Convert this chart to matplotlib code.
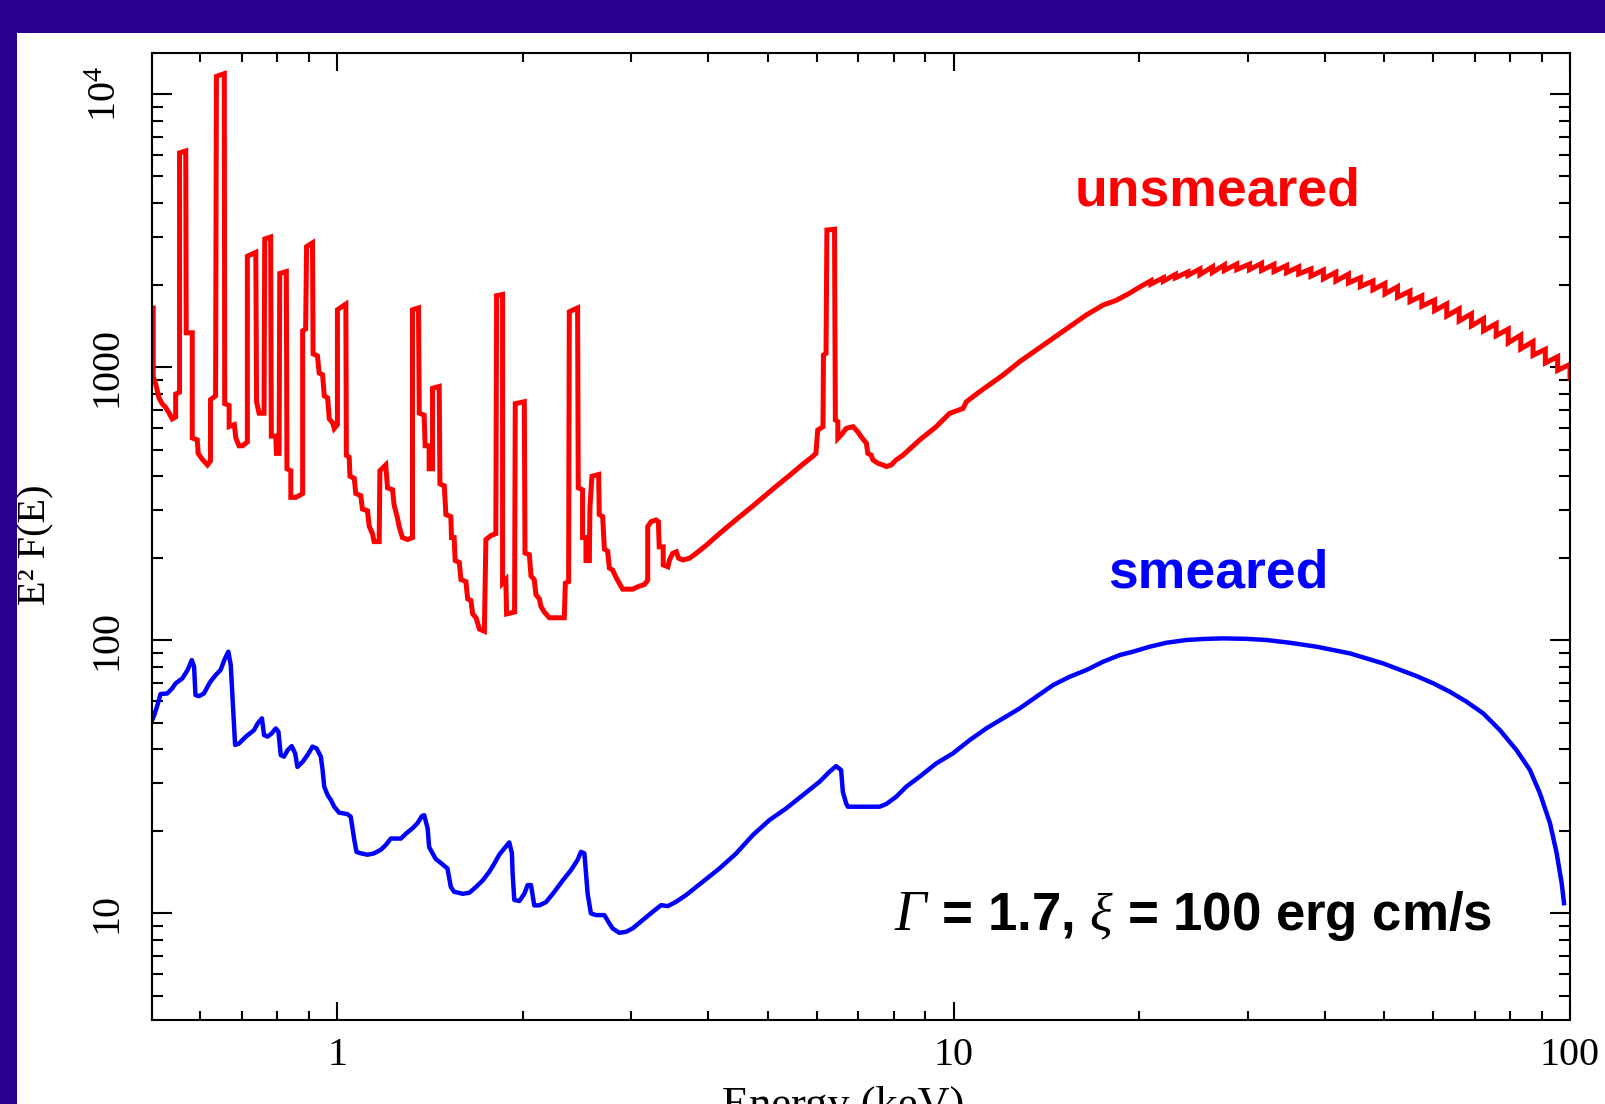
import matplotlib
matplotlib.use("Agg")
import matplotlib.pyplot as plt
from matplotlib.patches import Rectangle
from matplotlib.ticker import FixedLocator, LogLocator, NullFormatter

W, H = 1606, 1104
PURPLE = "#29008F"
SERIF = "Liberation Serif"
SANS = "Liberation Sans"

plt.rcParams.update({
    "mathtext.fontset": "custom",
    "mathtext.rm": SERIF,
    "mathtext.it": SERIF + ":italic",
    "mathtext.bf": SERIF + ":bold",
})

# unsmeared spectrum below 20 keV (keV, E^2 F(E))
RED_E = [
    0.500, 0.503, 0.503, 0.508, 0.514, 0.520, 0.527, 0.534, 0.540, 0.547,
    0.547, 0.555, 0.555, 0.568, 0.569, 0.582, 0.582, 0.593, 0.595, 0.604,
    0.616, 0.623, 0.623, 0.635, 0.637, 0.656, 0.657, 0.668, 0.668, 0.681,
    0.685, 0.693, 0.702, 0.715, 0.715, 0.738, 0.740, 0.747, 0.761, 0.763,
    0.780, 0.782, 0.795, 0.797, 0.805, 0.807, 0.827, 0.829, 0.841, 0.841,
    0.857, 0.868, 0.879, 0.879, 0.889, 0.892, 0.912, 0.914, 0.929, 0.935,
    0.947, 0.953, 0.965, 0.971, 0.983, 0.989, 1.001, 1.001, 1.033, 1.035,
    1.046, 1.049, 1.066, 1.072, 1.092, 1.099, 1.120, 1.127, 1.141, 1.148,
    1.170, 1.173, 1.199, 1.207, 1.230, 1.237, 1.253, 1.260, 1.276, 1.301,
    1.325, 1.325, 1.355, 1.359, 1.384, 1.389, 1.410, 1.410, 1.428, 1.428,
    1.464, 1.468, 1.492, 1.501, 1.529, 1.533, 1.548, 1.554, 1.578, 1.588,
    1.618, 1.628, 1.648, 1.659, 1.680, 1.701, 1.733, 1.743, 1.776, 1.809,
    1.814, 1.855, 1.855, 1.878, 1.883, 1.940, 1.945, 2.012, 2.017, 2.050,
    2.063, 2.088, 2.101, 2.128, 2.141, 2.168, 2.209, 2.336, 2.345, 2.374,
    2.380, 2.455, 2.461, 2.501, 2.501, 2.533, 2.533, 2.565, 2.571, 2.590,
    2.656, 2.662, 2.696, 2.713, 2.747, 2.764, 2.798, 2.834, 2.869, 2.905,
    3.015, 3.092, 3.15, 3.19, 3.19, 3.23, 3.29, 3.32, 3.33, 3.38,
    3.38, 3.44, 3.46, 3.50, 3.55, 3.58, 3.64, 3.73, 3.82, 3.97,
    4.17, 4.44, 4.72, 4.90, 5.15, 5.42, 5.69, 5.91, 5.98, 6.02,
    6.14, 6.15, 6.21, 6.23, 6.41, 6.43, 6.49, 6.49, 6.57, 6.70,
    6.87, 6.99, 7.08, 7.22, 7.26, 7.35, 7.40, 7.54, 7.68, 7.78,
    7.92, 8.07, 8.28, 8.81, 9.37, 9.85, 10.36, 10.49, 11.02, 12.03,
    12.80, 14.50, 15.43, 16.42, 17.48, 18.37, 19.31,
]
RED_F = [
    1650, 1650, 923, 865, 773, 736, 713, 679, 647, 658,
    798, 811, 6100, 6200, 1338, 1338, 551, 542, 484, 461,
    439, 454, 761, 786, 11630, 11900, 736, 725, 607, 617,
    551, 516, 516, 533, 2551, 2635, 748, 679, 679, 2951,
    3000, 560, 560, 484, 484, 2206, 2242, 425, 418, 334,
    334, 339, 345, 1359, 1382, 2766, 2857, 1120, 1102, 953,
    938, 786, 773, 647, 627, 597, 617, 1624, 1704, 476,
    469, 399, 392, 345, 339, 303, 298, 262, 246, 230,
    230, 418, 439, 362, 356, 313, 280, 262, 238, 234,
    238, 1624, 1650, 679, 668, 516, 516, 425, 425, 838,
    851, 374, 368, 289, 284, 238, 238, 196, 193, 167,
    164, 142, 140, 125, 121, 110, 108, 234, 242, 246,
    1829, 1848, 162, 167, 125, 127, 736, 748, 209, 206,
    172, 167, 147, 142, 133, 127, 121, 121, 162, 164,
    1597, 1650, 362, 356, 238, 238, 196, 196, 308, 399,
    405, 289, 284, 216, 212, 184, 181, 170, 162, 154,
    154, 158, 160, 166, 261, 272, 276, 272, 220, 220,
    189, 186, 197, 208, 211, 200, 197, 200, 208, 223,
    246, 277, 310, 333, 366, 402, 441, 472, 484, 589,
    606, 1109, 1125, 3184, 3202, 641, 632, 549, 565, 598,
    606, 581, 557, 527, 484, 477, 458, 445, 439, 433,
    439, 458, 477, 542, 606, 678, 707, 748, 814, 937,
    1049, 1277, 1408, 1555, 1691, 1760, 1870,
]

# unsmeared continuum above 20 keV: bin edges, value just before (hi) and after (lo) each edge
RED_EDGE_E = [
    20.0, 20.9, 21.9, 22.9, 24.0, 25.1, 26.3, 27.5, 28.8, 30.2,
    31.6, 33.1, 34.7, 36.3, 38.0, 39.8, 41.7, 43.7, 45.7, 47.9,
    50.1, 52.5, 55.0, 57.5, 60.3, 63.1, 66.1, 69.2, 72.4, 75.9,
    79.4, 83.2, 87.1, 91.2, 95.5, 100.0,
]
RED_EDGE_HI = [
    2018, 2075, 2128, 2188, 2234, 2291, 2333, 2371, 2388, 2388,
    2404, 2382, 2360, 2333, 2291, 2270, 2228, 2193, 2128, 2070,
    2028, 1972, 1901, 1828, 1762, 1706, 1637, 1570, 1507, 1445,
    1380, 1312, 1242, 1164, 1094, 1026,
]
RED_EDGE_LO = [
    1963, 2018, 2070, 2128, 2173, 2188, 2228, 2265, 2280, 2280,
    2265, 2244, 2223, 2198, 2158, 2109, 2070, 2037, 1977, 1923,
    1858, 1807, 1742, 1675, 1614, 1542, 1479, 1419, 1361, 1306,
    1230, 1169, 1107, 1038, 975, 914,
]

# smeared spectrum
BLUE_E = [
    0.500, 0.505, 0.511, 0.517, 0.530, 0.540, 0.547, 0.561, 0.572, 0.581,
    0.586, 0.589, 0.597, 0.608, 0.616, 0.623, 0.635, 0.647, 0.656, 0.666,
    0.672, 0.678, 0.683, 0.693, 0.711, 0.733, 0.743, 0.755, 0.761, 0.771,
    0.783, 0.795, 0.803, 0.810, 0.820, 0.831, 0.844, 0.855, 0.862, 0.879,
    0.895, 0.912, 0.926, 0.941, 0.947, 0.953, 0.965, 0.977, 0.989, 1.007,
    1.039, 1.052, 1.059, 1.066, 1.075, 1.092, 1.120, 1.148, 1.177, 1.199,
    1.222, 1.269, 1.293, 1.325, 1.350, 1.372, 1.384, 1.402, 1.410, 1.428,
    1.446, 1.473, 1.510, 1.529, 1.548, 1.598, 1.638, 1.680, 1.722, 1.765,
    1.798, 1.832, 1.867, 1.902, 1.921, 1.926, 1.938, 1.975, 2.012, 2.037,
    2.063, 2.088, 2.128, 2.182, 2.251, 2.322, 2.395, 2.455, 2.486, 2.518,
    2.549, 2.580, 2.629, 2.713, 2.764, 2.798, 2.869, 2.942, 3.015, 3.131,
    3.251, 3.354, 3.438, 3.547, 3.681, 3.918, 4.171, 4.439, 4.724, 5.027,
    5.351, 5.694, 6.061, 6.292, 6.449, 6.570, 6.612, 6.695, 6.737, 7.584,
    7.776, 8.070, 8.378, 8.807, 9.373, 9.975, 10.62, 11.30, 12.03, 12.80,
    13.62, 14.50, 15.43, 16.42, 17.48, 18.60, 19.55, 20.81, 22.14, 23.86,
    25.50, 27.37, 29.80, 32.18, 35.12, 38.79, 43.95, 49.77, 56.37, 60.00,
    63.86, 67.96, 72.33, 76.97, 81.91, 86.11, 89.39, 92.80, 95.15, 96.94,
    97.79,
]
BLUE_F = [
    50.4, 53.3, 57.9, 63.6, 63.9, 66.7, 69.6, 72.6, 77.9, 84.7,
    80.1, 63.0, 62.5, 63.9, 67.6, 70.6, 74.6, 77.9, 84.7, 90.9,
    81.2, 56.3, 41.4, 41.9, 44.4, 46.9, 49.6, 51.8, 45.0, 44.4,
    45.6, 47.6, 46.3, 38.0, 37.5, 39.6, 41.0, 38.5, 34.4, 35.9,
    38.0, 40.8, 40.2, 37.5, 33.5, 29.1, 27.1, 26.0, 24.6, 23.4,
    23.1, 22.6, 20.5, 18.6, 16.8, 16.6, 16.4, 16.6, 17.1, 17.8,
    18.8, 18.8, 19.6, 20.5, 21.4, 22.7, 22.9, 20.5, 17.5, 16.6,
    15.8, 15.3, 14.6, 12.5, 12.0, 11.8, 11.9, 12.5, 13.2, 14.2,
    15.2, 16.4, 17.3, 18.2, 16.6, 14.0, 11.2, 11.1, 11.8, 12.7,
    12.7, 10.7, 10.7, 11.0, 12.0, 13.2, 14.4, 15.7, 16.8, 16.6,
    11.8, 10.0, 9.86, 9.86, 9.19, 8.81, 8.49, 8.56, 8.81, 9.45,
    10.14, 10.72, 10.63, 11.03, 11.67, 13.06, 14.61, 16.58, 19.36, 21.97,
    24.24, 27.13, 30.35, 33.03, 34.64, 33.49, 27.9, 25.28, 24.59, 24.59,
    25.15, 26.74, 29.10, 31.66, 35.43, 38.55, 43.13, 47.59, 51.78, 56.34,
    62.16, 68.59, 73.57, 77.84, 83.51, 88.34, 90.9, 94.8, 98.0, 100.3,
    101.2, 101.7, 101.3, 100.3, 98.0, 94.8, 89.6, 82.3, 74.0, 69.6,
    64.8, 59.6, 54.0, 46.9, 39.6, 33.5, 27.5, 21.4, 16.6, 12.9,
    10.9,
]

X_TICKS = [1, 10, 100]
X_LABELS = ["1", "10", "100"]
Y_TICKS = [10, 100, 1000, 10000]
Y_LABELS = ["10", "100", "1000", r"$10^4$"]


def red_curve():
    es = list(RED_E)
    fs = list(RED_F)
    # first edge: continue from the low-energy part at the "after" value
    es.append(RED_EDGE_E[0])
    fs.append(RED_EDGE_LO[0])
    for e, hi, lo in zip(RED_EDGE_E[1:], RED_EDGE_HI[1:], RED_EDGE_LO[1:]):
        es += [e, e]
        fs += [hi, lo]
    return es, fs


fig = plt.figure(figsize=(W / 100, H / 100), dpi=100, facecolor=PURPLE)
fig.patches.append(Rectangle((17.5 / W, 0), 1, 1 - 32.7 / H, transform=fig.transFigure,
                             facecolor="white", edgecolor="none", zorder=-10))

ax = fig.add_axes([151.6 / W, 1 - 1020 / H, (1570 - 151.6) / W, (1020 - 52.7) / H])
ax.set_xscale("log")
ax.set_yscale("log")

rx, ry = red_curve()
ax.plot(rx, ry, color="#FF0000", linewidth=3.6, solid_joinstyle="miter")
ax.plot(BLUE_E, BLUE_F, color="#0000FF", linewidth=3.2)

ax.set_xlim(0.5, 100)
ax.set_ylim(4.07, 14200)

ax.xaxis.set_major_locator(FixedLocator(X_TICKS))
ax.xaxis.set_minor_locator(LogLocator(base=10, subs=range(2, 10)))
ax.xaxis.set_minor_formatter(NullFormatter())
ax.yaxis.set_major_locator(FixedLocator(Y_TICKS))
ax.yaxis.set_minor_locator(LogLocator(base=10, subs=range(2, 10)))
ax.yaxis.set_minor_formatter(NullFormatter())
ax.set_xticklabels(X_LABELS, fontfamily=SERIF, fontsize=29)
ax.set_yticklabels(Y_LABELS, fontfamily=SERIF, fontsize=29, rotation=90, va="center")

for s in ax.spines.values():
    s.set_linewidth(1.5)
ax.tick_params(axis="x", which="major", direction="in", top=True, length=13, width=1.5, pad=12)
ax.tick_params(axis="x", which="minor", direction="in", top=True, length=6.5, width=1.5)
ax.tick_params(axis="y", which="major", direction="in", right=True, length=14.4, width=1.5, pad=19)
ax.tick_params(axis="y", which="minor", direction="in", right=True, length=8, width=1.5)

fig.text(36 / W, 1 - 545 / H, "E² F(E)", rotation=90, ha="center", va="center",
         fontfamily=SERIF, fontsize=29)
fig.text(843 / W, 1 - 1086 / H, "Energy (keV)", ha="center", va="top",
         fontfamily=SERIF, fontsize=32)

fig.text(1218 / W, 1 - 205 / H, "unsmeared", ha="center", va="baseline",
         color="#FF0000", fontfamily=SANS, fontweight="bold", fontsize=38.5)
fig.text(1218 / W, 1 - 587 / H, "smeared", ha="center", va="baseline",
         color="#0000FF", fontfamily=SANS, fontweight="bold", fontsize=38.5)
# italic serif Gamma, then the rest of the parameter line
fig.text(894 / W, 1 - 930 / H, "Γ", ha="left", va="baseline", color="black",
         fontfamily=SERIF, fontstyle="italic", fontsize=40)
fig.text(927 / W, 1 - 930 / H, r" = 1.7, $\mathit{\xi}$ = 100 erg cm/s",
         ha="left", va="baseline", color="black", fontfamily=SANS,
         fontweight="bold", fontsize=38)

# purple frame drawn over the page so the y label is cut like the original
fig.patches.append(Rectangle((0, 0), 17.5 / W, 1, transform=fig.transFigure,
                             facecolor=PURPLE, edgecolor="none", zorder=10))
fig.patches.append(Rectangle((0, 1 - 32.7 / H), 1, 32.7 / H, transform=fig.transFigure,
                             facecolor=PURPLE, edgecolor="none", zorder=10))

fig.savefig("out.png", dpi=100, facecolor=PURPLE)
